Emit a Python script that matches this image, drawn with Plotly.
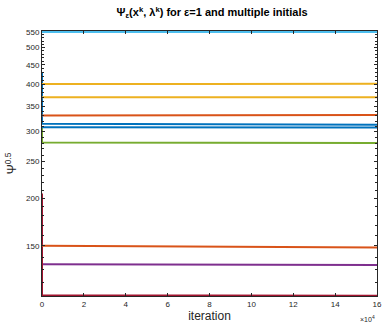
import numpy as np
import plotly.graph_objects as go

# iteration sample points
iters = [0, 1, 80000, 160000]

# Psi^0.5 values per initial point (MATLAB colour order)
s_blue1 = [430, 314.5, 314, 313]
s_orange1 = [331, 331, 331.5, 332]
s_yellow1 = [401, 400.5, 401, 401.5]
s_purple = [134, 134, 133.8, 133.5]
s_green = [310, 281, 280.5, 280]
s_cyan = [550, 550, 550, 550]
s_red = [206, 111, 110.8, 110.6]
s_blue2 = [308, 308, 308, 307.5]
s_orange2 = [150, 150, 149, 148.3]
s_yellow2 = [370, 370, 370, 370]

series = [s_blue1, s_orange1, s_yellow1, s_purple, s_green, s_cyan, s_red,
          s_blue2, s_orange2, s_yellow2]
colors = ["#0072BD", "#D95319", "#EDB120", "#7E2F8E", "#77AC30", "#4DBEEE",
          "#A2142F", "#0072BD", "#D95319", "#EDB120"]

xtick_vals = [0, 20000, 40000, 60000, 80000, 100000, 120000, 140000, 160000]
xtick_text = ["0", "2", "4", "6", "8", "10", "12", "14", "16"]
ytick_vals = [150, 200, 250, 300, 350, 400, 450, 500, 550]
yminor_vals = [120, 130, 140, 160, 170, 180, 190, 210, 220, 230, 240, 260, 270,
               280, 290, 310, 320, 330, 340, 360, 370, 380, 390, 410, 420, 430,
               440, 460, 470, 480, 490, 510, 520, 530, 540]

font_family = "Liberation Sans, Arial, sans-serif"

fig = go.Figure()
for s, c in zip(series, colors):
    fig.add_trace(go.Scatter(x=iters, y=s, mode="lines",
                             line=dict(color=c, width=2), showlegend=False))

fig.update_layout(
    width=387, height=324,
    margin=dict(l=42, r=5, t=31, b=28),
    paper_bgcolor="white", plot_bgcolor="white",
    font=dict(family=font_family, color="#262626"),
    title=dict(
        text="<b>Ψ<sub>ε</sub>(x<sup>k</sup>, λ<sup>k</sup>) for ε=1 and multiple initials</b>",
        x=0.548, xanchor="center", y=0.962, yanchor="middle",
        font=dict(size=11, color="black")),
    xaxis=dict(
        range=[0, 160000], tickvals=xtick_vals, ticktext=xtick_text,
        ticks="inside", ticklen=3, tickcolor="#262626", mirror="allticks",
        showline=True, linecolor="#262626", linewidth=1, showgrid=False,
        zeroline=False, tickfont=dict(size=8, color="#262626"),
        ticklabeloverflow="allow",
        title=dict(text="iteration", font=dict(size=12, color="#262626"), standoff=2)),
    yaxis=dict(
        type="log", range=[np.log10(110.5), np.log10(553)],
        tickvals=ytick_vals, ticktext=[str(v) for v in ytick_vals],
        ticks="inside", ticklen=3, tickcolor="#262626", mirror="allticks",
        showline=True, linecolor="#262626", linewidth=1, showgrid=False,
        zeroline=False, tickfont=dict(size=8, color="#262626"),
        minor=dict(tickmode="array", tickvals=yminor_vals, ticks="inside",
                   ticklen=2, tickcolor="#262626", showgrid=False),
        title=dict(text="Ψ<sup>0.5</sup>", font=dict(size=12, color="#262626"), standoff=6)),
)

fig.add_annotation(text="×10<sup>4</sup>", xref="paper", yref="paper",
                   x=1.0, y=-0.065, xanchor="right", yanchor="top",
                   showarrow=False, font=dict(size=7, color="#262626"))

fig.write_html("out.html")
